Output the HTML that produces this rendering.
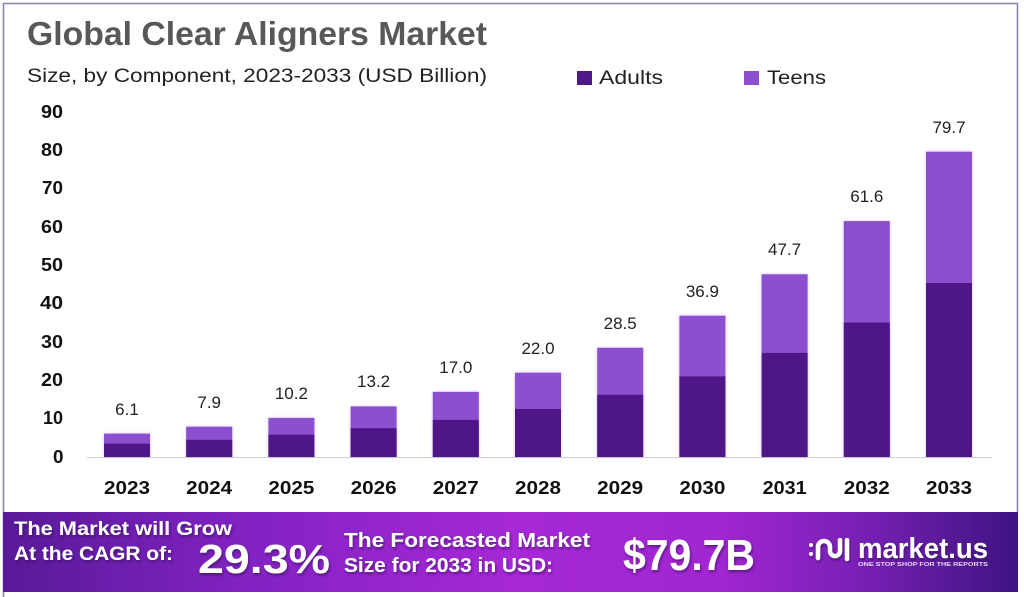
<!DOCTYPE html>
<html><head><meta charset="utf-8"><style>
html,body{margin:0;padding:0;background:#fff;}
svg{display:block;}
text{font-family:"Liberation Sans",sans-serif;}
</style></head><body>
<svg width="1024" height="597" viewBox="0 0 1024 597" xmlns="http://www.w3.org/2000/svg">
<defs>
<linearGradient id="bg" x1="0" x2="1" y1="0" y2="0">
<stop offset="0" stop-color="#581a98"/>
<stop offset="0.25" stop-color="#8422c4"/>
<stop offset="0.5" stop-color="#a628d6"/>
<stop offset="0.7" stop-color="#a226d2"/>
<stop offset="0.84" stop-color="#7a20b6"/>
<stop offset="1" stop-color="#3e1482"/>
</linearGradient>
<filter id="sh" x="-10%" y="-10%" width="120%" height="130%"><feDropShadow dx="1" dy="2" stdDeviation="1.2" flood-color="#2a0a50" flood-opacity="0.6"/></filter>
<filter id="bs" x="-20%" y="-5%" width="140%" height="110%"><feDropShadow dx="0" dy="0" stdDeviation="1.5" flood-color="#8a4fcf" flood-opacity="0.35"/></filter>
</defs>
<rect x="0" y="0" width="1024" height="597" fill="#fff"/>
<!-- frame -->
<path d="M3.5 597 V3.5 H1017.5 V512" fill="none" stroke="#8e82a6" stroke-width="1.6"/>
<!-- title -->
<text x="27" y="45" font-size="33" font-weight="bold" fill="#585858" textLength="460" lengthAdjust="spacingAndGlyphs">Global Clear Aligners Market</text>
<text x="27" y="82" font-size="19.5" fill="#222" textLength="460" lengthAdjust="spacingAndGlyphs">Size, by Component, 2023-2033 (USD Billion)</text>
<!-- legend -->
<rect x="577" y="71" width="15" height="14" fill="#4f1787"/>
<text x="599" y="84" font-size="19" fill="#222" textLength="64" lengthAdjust="spacingAndGlyphs">Adults</text>
<rect x="744" y="71" width="15" height="14" fill="#8b4fcf"/>
<text x="767" y="84" font-size="19" fill="#222" textLength="59" lengthAdjust="spacingAndGlyphs">Teens</text>
<!-- y axis labels -->
<g font-size="18" font-weight="bold" fill="#111">
<text x="41" y="118" textLength="22" lengthAdjust="spacingAndGlyphs">90</text>
<text x="41" y="156" textLength="22" lengthAdjust="spacingAndGlyphs">80</text>
<text x="42" y="194" textLength="21" lengthAdjust="spacingAndGlyphs">70</text>
<text x="41" y="233" textLength="22" lengthAdjust="spacingAndGlyphs">60</text>
<text x="41" y="271" textLength="22" lengthAdjust="spacingAndGlyphs">50</text>
<text x="40" y="309" textLength="23" lengthAdjust="spacingAndGlyphs">40</text>
<text x="41" y="348" textLength="22" lengthAdjust="spacingAndGlyphs">30</text>
<text x="41" y="386" textLength="22" lengthAdjust="spacingAndGlyphs">20</text>
<text x="43" y="424" textLength="20" lengthAdjust="spacingAndGlyphs">10</text>
<text x="53" y="463" textLength="10.5" lengthAdjust="spacingAndGlyphs">0</text>
</g>
<!-- baseline -->
<line x1="87" y1="457.5" x2="992" y2="457.5" stroke="#cfcfcf" stroke-width="1"/>
<!-- bars -->
<g filter="url(#bs)">
<rect x="104" y="433.6" width="46" height="23.4" fill="#8b4fcf"/><rect x="104" y="443.7" width="46" height="13.3" fill="#4f1787"/>
<rect x="186.2" y="426.7" width="46" height="30.3" fill="#8b4fcf"/><rect x="186.2" y="439.8" width="46" height="17.2" fill="#4f1787"/>
<rect x="268.4" y="417.9" width="46" height="39.1" fill="#8b4fcf"/><rect x="268.4" y="434.7" width="46" height="22.3" fill="#4f1787"/>
<rect x="350.6" y="406.4" width="46" height="50.6" fill="#8b4fcf"/><rect x="350.6" y="428.2" width="46" height="28.8" fill="#4f1787"/>
<rect x="432.8" y="391.9" width="46" height="65.1" fill="#8b4fcf"/><rect x="432.8" y="419.9" width="46" height="37.1" fill="#4f1787"/>
<rect x="515" y="372.7" width="46" height="84.3" fill="#8b4fcf"/><rect x="515" y="409" width="46" height="48" fill="#4f1787"/>
<rect x="597.2" y="347.8" width="46" height="109.2" fill="#8b4fcf"/><rect x="597.2" y="394.8" width="46" height="62.2" fill="#4f1787"/>
<rect x="679.4" y="315.7" width="46" height="141.3" fill="#8b4fcf"/><rect x="679.4" y="376.4" width="46" height="80.6" fill="#4f1787"/>
<rect x="761.6" y="274.3" width="46" height="182.7" fill="#8b4fcf"/><rect x="761.6" y="352.9" width="46" height="104.1" fill="#4f1787"/>
<rect x="843.8" y="221.1" width="46" height="235.9" fill="#8b4fcf"/><rect x="843.8" y="322.5" width="46" height="134.5" fill="#4f1787"/>
<rect x="926" y="151.7" width="46" height="305.3" fill="#8b4fcf"/><rect x="926" y="283" width="46" height="174" fill="#4f1787"/>
</g>
<!-- value labels -->
<g font-size="17" fill="#222" text-anchor="middle">
<text x="127" y="415">6.1</text>
<text x="209.2" y="408">7.9</text>
<text x="291.4" y="399">10.2</text>
<text x="373.6" y="387">13.2</text>
<text x="455.8" y="373">17.0</text>
<text x="538" y="354">22.0</text>
<text x="620.2" y="329">28.5</text>
<text x="702.4" y="297">36.9</text>
<text x="784.6" y="255">47.7</text>
<text x="866.8" y="202">61.6</text>
<text x="949" y="133">79.7</text>
</g>
<!-- x labels -->
<g font-size="18" font-weight="bold" fill="#111">
<text x="104" y="494" textLength="46" lengthAdjust="spacingAndGlyphs">2023</text>
<text x="186.2" y="494" textLength="46" lengthAdjust="spacingAndGlyphs">2024</text>
<text x="268.4" y="494" textLength="46" lengthAdjust="spacingAndGlyphs">2025</text>
<text x="350.6" y="494" textLength="46" lengthAdjust="spacingAndGlyphs">2026</text>
<text x="432.8" y="494" textLength="46" lengthAdjust="spacingAndGlyphs">2027</text>
<text x="515" y="494" textLength="46" lengthAdjust="spacingAndGlyphs">2028</text>
<text x="597.2" y="494" textLength="46" lengthAdjust="spacingAndGlyphs">2029</text>
<text x="679.4" y="494" textLength="46" lengthAdjust="spacingAndGlyphs">2030</text>
<text x="762.6" y="494" textLength="44" lengthAdjust="spacingAndGlyphs">2031</text>
<text x="843.8" y="494" textLength="46" lengthAdjust="spacingAndGlyphs">2032</text>
<text x="926" y="494" textLength="46" lengthAdjust="spacingAndGlyphs">2033</text>
</g>
<!-- banner -->
<rect x="3" y="512" width="1015" height="80" fill="url(#bg)"/>
<g fill="#fff" font-weight="bold" filter="url(#sh)">
<text x="14" y="535" font-size="19.5" textLength="218" lengthAdjust="spacingAndGlyphs">The Market will Grow</text>
<text x="14" y="560" font-size="19.5" textLength="159" lengthAdjust="spacingAndGlyphs">At the CAGR of:</text>
<text x="198" y="573" font-size="41" textLength="132" lengthAdjust="spacingAndGlyphs">29.3%</text>
<text x="344" y="547" font-size="20" textLength="246" lengthAdjust="spacingAndGlyphs">The Forecasted Market</text>
<text x="344" y="572" font-size="20" textLength="209" lengthAdjust="spacingAndGlyphs">Size for 2033 in USD:</text>
<text x="623" y="570" font-size="44" textLength="132" lengthAdjust="spacingAndGlyphs">$79.7B</text>
<text x="858" y="558" font-size="29" textLength="130" lengthAdjust="spacingAndGlyphs">market.us</text>
</g>
<text x="858" y="566" font-size="5" fill="#e8d8f4" font-weight="bold" textLength="130" lengthAdjust="spacingAndGlyphs">ONE STOP SHOP FOR THE REPORTS</text>
<!-- logo icon -->
<g fill="none" stroke="#fff" stroke-width="4.5" stroke-linecap="round" filter="url(#sh)">
<circle cx="811" cy="545" r="2" fill="#fff" stroke="none"/>
<circle cx="811" cy="554" r="2" fill="#fff" stroke="none"/>
<path d="M818 558 V547 a6 6 0 0 1 12 0 V551 a5 5 0 0 0 10 0 V540"/>
<path d="M847 540 V559"/>
</g>
</svg>
</body></html>
